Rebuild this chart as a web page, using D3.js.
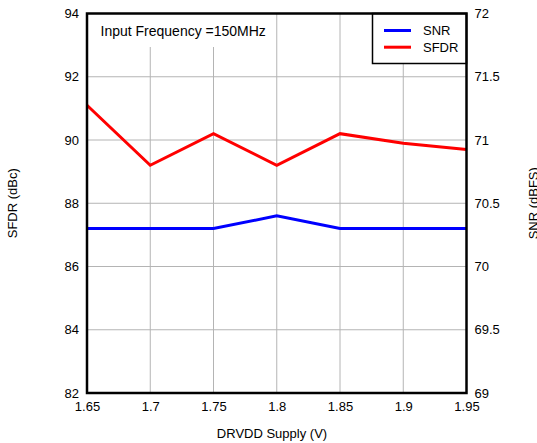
<!DOCTYPE html>
<html><head><meta charset="utf-8">
<script src="https://cdn.jsdelivr.net/npm/d3@7"></script>
<style>body{margin:0;background:#fff}svg{display:block}text{font-family:"Liberation Sans",Arial,sans-serif}</style>
</head><body><svg id="c" width="537" height="443"></svg>
<script>
const supply = [1.65, 1.7, 1.75, 1.8, 1.85, 1.9, 1.95];
const sfdr = [91.1, 89.2, 90.2, 89.2, 90.2, 89.9, 89.7];
const snr = [70.3, 70.3, 70.3, 70.4, 70.3, 70.3, 70.3];
const xTicks = [1.65, 1.7, 1.75, 1.8, 1.85, 1.9, 1.95];
const leftTicks = [82, 84, 86, 88, 90, 92, 94];
const rightTicks = [69, 69.5, 70, 70.5, 71, 71.5, 72];
const seriesNames = ["SNR", "SFDR"];
const seriesColors = ["#0000ff", "#ff0000"];

const L = 87, R = 466.5, T = 13.5, B = 393;
const svg = d3.select("#c");
const x = d3.scaleLinear().domain([1.65, 1.95]).range([L, R]);
const yl = d3.scaleLinear().domain([82, 94]).range([B, T]);
const yr = d3.scaleLinear().domain([69, 72]).range([B, T]);

// grid
const g = svg.append("g");
g.selectAll(".vg").data(xTicks.slice(1, -1)).enter().append("line")
  .attr("x1", d => x(d)).attr("x2", d => x(d)).attr("y1", T).attr("y2", B)
  .attr("stroke", "#b4b4b4").attr("stroke-width", 1);
g.selectAll(".hg").data(leftTicks.slice(1, -1)).enter().append("line")
  .attr("x1", L).attr("x2", R).attr("y1", d => yl(d)).attr("y2", d => yl(d))
  .attr("stroke", "#b4b4b4").attr("stroke-width", 1);

// axes (labels only)
const fs = 13;
const axL = d3.axisLeft(yl).tickValues(leftTicks).tickSize(0).tickPadding(8).tickFormat(d3.format("d"));
const axR = d3.axisRight(yr).tickValues(rightTicks).tickSize(0).tickPadding(8).tickFormat(d => String(d));
const axB = d3.axisBottom(x).tickValues(xTicks).tickSize(0).tickPadding(9).tickFormat(d => String(d));
function style(sel){ sel.select(".domain").remove(); sel.selectAll("text").attr("font-size", fs).attr("fill", "#000").style("font-family", "Liberation Sans, Arial, sans-serif"); }
svg.append("g").attr("transform", `translate(${L},0)`).call(axL).call(style);
svg.append("g").attr("transform", `translate(${R},0)`).call(axR).call(style);
svg.append("g").attr("transform", `translate(0,${B})`).call(axB).call(style);

// lines
const lineL = d3.line().x((d, i) => x(supply[i])).y(d => yl(d));
const lineR = d3.line().x((d, i) => x(supply[i])).y(d => yr(d));
svg.append("path").attr("d", lineR(snr)).attr("fill", "none").attr("stroke", seriesColors[0]).attr("stroke-width", 3);
svg.append("path").attr("d", lineL(sfdr)).attr("fill", "none").attr("stroke", seriesColors[1]).attr("stroke-width", 3);

// annotation box
svg.append("rect").attr("x", L).attr("y", T).attr("width", 188).attr("height", 33.5).attr("fill", "#fff");
svg.append("text").attr("x", 100.5).attr("y", 35.5).attr("font-size", 14).text("Input Frequency =150MHz");

// legend
const lg = svg.append("g");
lg.append("rect").attr("x", 372.5).attr("y", T).attr("width", R - 372.5).attr("height", 50)
  .attr("fill", "#fff").attr("stroke", "#000").attr("stroke-width", 1.5);
seriesNames.forEach((n, i) => {
  const yy = 30.5 + i * 16.7;
  lg.append("line").attr("x1", 384).attr("x2", 411).attr("y1", yy).attr("y2", yy)
    .attr("stroke", seriesColors[i]).attr("stroke-width", 3);
  lg.append("text").attr("x", 423).attr("y", yy + 4.5).attr("font-size", fs).text(n);
});

// frame
svg.append("rect").attr("x", L).attr("y", T).attr("width", R - L).attr("height", B - T)
  .attr("fill", "none").attr("stroke", "#000").attr("stroke-width", 2.5);

// axis titles
svg.append("text").attr("transform", `translate(17,${(T + B) / 2}) rotate(-90)`).attr("text-anchor", "middle")
  .attr("font-size", fs).text("SFDR (dBc)");
svg.append("text").attr("transform", `translate(538,${(T + B) / 2}) rotate(-90)`).attr("text-anchor", "middle")
  .attr("font-size", fs).text("SNR (dBFS)");
svg.append("text").attr("x", 272).attr("y", 437.5).attr("text-anchor", "middle")
  .attr("font-size", fs).text("DRVDD Supply (V)");
</script></body></html>
